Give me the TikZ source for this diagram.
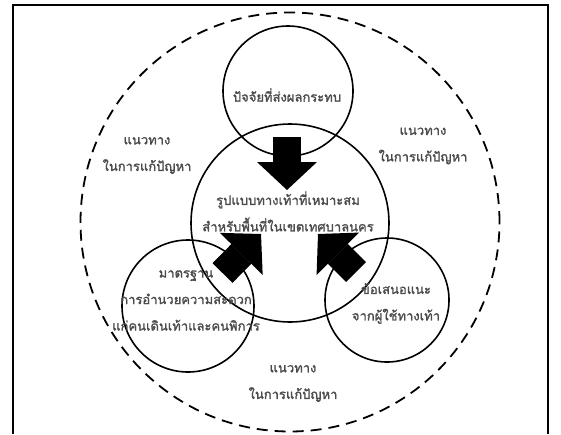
\documentclass[tikz,border=0pt]{standalone}
\usepackage{fontspec}
\newfontfamily\thaifont[Script=Thai, FakeBold=1.6]{Loma}
\usepackage{tikz}
\usetikzlibrary{arrows.meta, positioning}
\definecolor{labelgray}{gray}{0.3}
\tikzset{
    ring/.style={
        circle,
        draw=black,
        line width=1.6pt,
        inner sep=0pt
    },
    outerring/.style={
        circle,
        draw=black,
        line width=1.8pt,
        dash pattern=on 11pt off 7pt,
        inner sep=0pt
    },
    thaitext/.style={
        font=\thaifont\fontsize{13}{26.5}\selectfont,
        text=labelgray,
        align=center,
        inner sep=1pt
    },
    blockarrow/.style={
        draw=black,
        line width=28pt,
        -{Triangle[length=28pt, width=60pt, line width=0pt]}
    },
    frameline/.style={
        draw=black,
        line width=2pt
    }
}

\begin{document}
\begin{tikzpicture}[x=1pt, y=-1pt]
\useasboundingbox (0,0) rectangle (561,434);

% Frame
\draw[frameline] (13,434) -- (13,5) -- (548,5) -- (548,434);

% Outer dashed boundary
\node[outerring, minimum size=419pt] (boundary) at (290,222) {};

% Circles
\node[ring, minimum size=130pt] (factors) at (288,91) {};
\node[ring, minimum size=198pt] (model) at (290,223) {};
\node[ring, minimum size=132pt] (standard) at (188,306) {};
\node[ring, minimum size=124pt] (advice) at (387,300) {};

% Circle texts
\node[thaitext] (factors_text) at (287,95) {ปัจจัยที่ส่งผลกระทบ};
\node[thaitext] (model_text) at (288,211.5) {รูปแบบทางเท้าที่เหมาะสม\\สำหรับพื้นที่ในเขตเทศบาลนคร};
\node[thaitext] (standard_text) at (186,300.5) {มาตรฐาน\\การอำนวยความสะดวก\\แก่คนเดินเท้าและคนพิการ};
\node[thaitext] (advice_text) at (396,303.5) {ข้อเสนอแนะ\\จากผู้ใช้ทางเท้า};

% Solution labels
\node[thaitext] (way_left) at (147,155.5) {แนวทาง\\ในการแก้ปัญหา};
\node[thaitext] (way_right) at (423,146) {แนวทาง\\ในการแก้ปัญหา};
\node[thaitext] (way_bottom) at (293,383.5) {แนวทาง\\ในการแก้ปัญหา};

% Block arrows
\coordinate (top_tail) at (287,137);
\coordinate (top_tip) at (287,190);
\coordinate (left_tail) at (222.5,273);
\coordinate (left_tip) at (261,234);
\coordinate (right_tail) at (356,272);
\coordinate (right_tip) at (318,234);
\draw[blockarrow] (top_tail) -- (top_tip);
\draw[blockarrow] (left_tail) -- (left_tip);
\draw[blockarrow] (right_tail) -- (right_tip);

\end{tikzpicture}
\end{document}
